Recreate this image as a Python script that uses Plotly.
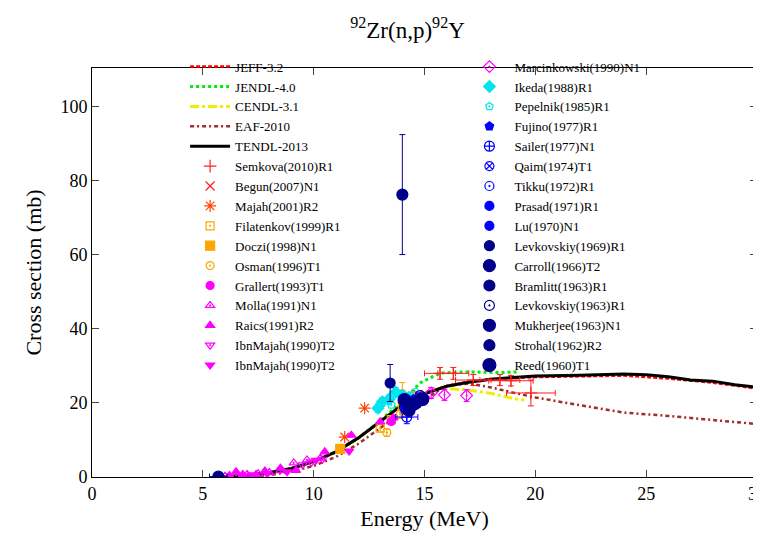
import plotly.graph_objects as go

# === evaluated libraries (energy in MeV, cross section in mb) ===
tendl_e = [5.8, 6.5, 7.0, 8.0, 9.0, 10.0, 11.0, 12.0, 13.0, 14.0, 15.0, 16.0, 17.0, 18.0, 19.0, 20.0,
           22.0, 24.0, 25.0, 26.0, 27.0, 28.0, 29.0, 30.0, 30.0]
tendl_y = [0.0, 0.2, 0.5, 1.2, 2.3, 4.2, 6.8, 10.5, 15.0, 19.5, 22.5, 24.5, 25.6, 26.4, 26.9, 27.3,
           27.5, 27.8, 27.6, 27.1, 26.2, 25.9, 24.9, 24.3, 0.0]
jeff_e = [5.8, 7.0, 8.0, 9.0, 10.0, 11.0, 12.0, 13.0, 14.0, 15.0, 16.0, 17.0, 18.0, 20.0, 22.0, 24.0,
          26.0, 28.0, 30.0]
jeff_y = [0.0, 0.5, 1.2, 2.3, 4.1, 6.7, 10.4, 14.9, 19.4, 22.6, 24.6, 25.8, 26.4, 27.0, 27.3, 27.4,
          26.6, 25.5, 23.9]
jendl_e = [5.8, 7.0, 8.0, 9.0, 10.0, 11.0, 12.0, 13.0, 14.0, 14.8, 15.7, 17.0, 18.4, 19.2]
jendl_y = [0.0, 0.5, 1.2, 2.3, 4.2, 6.8, 10.5, 15.2, 20.5, 25.4, 28.1, 28.4, 28.2, 28.4]
cendl_e = [5.8, 7.0, 8.0, 9.0, 10.0, 11.0, 12.0, 13.0, 14.0, 15.0, 15.7, 17.0, 18.0, 19.0, 19.5]
cendl_y = [0.0, 0.5, 1.2, 2.3, 4.2, 6.8, 10.5, 15.0, 19.5, 22.8, 24.0, 23.5, 22.6, 21.2, 20.8]
eaf_e = [6.5, 8.0, 9.0, 10.0, 11.0, 12.0, 13.0, 14.0, 15.0, 16.0, 17.0, 18.0, 19.0, 20.0, 22.0, 24.0,
         26.0, 28.0, 30.0]
eaf_y = [0.0, 0.5, 1.5, 3.0, 5.4, 8.9, 13.2, 17.5, 21.0, 24.6, 25.3, 24.2, 22.8, 21.5, 19.4, 17.4,
         16.5, 15.3, 14.3]

# === experimental data ===
semkova_e = [15.7, 16.3, 17.2, 18.4, 18.9, 19.8]
semkova_y = [28.0, 28.0, 26.2, 26.2, 26.0, 22.7]
semkova_dy = [1.6, 1.6, 1.5, 1.5, 1.4, 3.5]
semkova_de = [0.7, 0.7, 0.8, 0.9, 1.0, 1.1]
begun_e = [14.7]
begun_y = [22.3]
majah_e = [11.4, 12.3]
majah_y = [10.8, 18.6]
filatenkov_e = [13.0, 13.5, 14.0, 14.5]
filatenkov_y = [13.2, 15.5, 19.0, 21.8]
filatenkov_dy = [1.0, 1.0, 1.2, 1.2]
doczi_e = [11.2]
doczi_y = [7.6]
osman_e = [13.3, 13.9, 14.0, 14.5]
osman_y = [12.0, 17.0, 22.5, 20.5]
osman_dy = [1.0, 1.2, 3.0, 1.2]
grallert_e = [13.5, 14.1, 14.7]
grallert_y = [15.0, 18.5, 20.8]
molla_e = [6.0, 6.5, 7.0, 7.5, 8.0, 8.5, 9.1, 9.7, 10.3]
molla_y = [0.2, 0.4, 0.7, 0.9, 1.2, 1.7, 3.8, 4.6, 5.1]
raics_e = [6.2, 6.5, 6.8, 7.4, 7.8, 8.5, 9.2, 10.5, 11.7, 13.0, 13.6]
raics_y = [0.4, 1.4, 0.7, 0.7, 1.6, 2.4, 1.8, 6.8, 11.3, 14.9, 16.0]
ibn1_e = [9.5, 9.9, 10.4]
ibn1_y = [3.3, 4.0, 4.8]
ibn2_e = [7.2, 7.9, 8.8, 10.1, 11.6]
ibn2_y = [0.6, 0.9, 1.4, 4.5, 7.0]
marcin_e = [14.7, 15.3, 15.9, 16.9]
marcin_y = [21.3, 22.7, 22.2, 22.0]
marcin_dy = [1.5, 1.5, 1.5, 1.6]
ikeda_e = [12.9, 13.1, 13.4, 13.7, 14.0, 14.3]
ikeda_y = [18.6, 20.3, 21.0, 22.9, 22.0, 21.5]
ikeda_dy = [1.2, 1.2, 1.2, 1.3, 1.2, 1.2]
pepelnik_e = [13.5, 14.1, 14.6]
pepelnik_y = [19.5, 21.5, 23.0]
fujino_e = [14.5]
fujino_y = [21.0]
sailer_e = [14.2]
sailer_y = [16.2]
qaim_e = [14.7]
qaim_y = [20.5]
tikku_e = [14.4]
tikku_y = [19.0]
prasad_e = [14.8]
prasad_y = [21.5]
lu_e = [14.1]
lu_y = [18.5]
levk69_e = [13.45]
levk69_y = [25.4]
carroll_e = [14.6]
carroll_y = [20.0]
bramlitt_e = [14.0]
bramlitt_y = [76.3]
levk63_e = [14.8]
levk63_y = [22.0]
mukherjee_e = [14.3]
mukherjee_y = [18.0]
strohal_e = [5.7, 14.5]
strohal_y = [0.1, 19.5]
reed_e = [14.1, 14.9]
reed_y = [20.8, 21.0]

fig = go.Figure()

# === curves ===
fig.add_trace(go.Scatter(x=jeff_e, y=jeff_y, mode="lines", name="JEFF-3.2",
                         line=dict(color="#ff0000", width=2.5, dash="4px,2px"), legend="legend"))
fig.add_trace(go.Scatter(x=jendl_e, y=jendl_y, mode="lines", name="JENDL-4.0",
                         line=dict(color="#00ee00", width=3, dash="dot"), legend="legend"))
fig.add_trace(go.Scatter(x=cendl_e, y=cendl_y, mode="lines", name="CENDL-3.1",
                         line=dict(color="#eeee00", width=3, dash="dashdot"), legend="legend"))
fig.add_trace(go.Scatter(x=eaf_e, y=eaf_y, mode="lines", name="EAF-2010",
                         line=dict(color="#a52a2a", width=2.5, dash="4px,3px,2px,3px"), legend="legend"))
fig.add_trace(go.Scatter(x=tendl_e, y=tendl_y, mode="lines", name="TENDL-2013",
                         line=dict(color="#000000", width=3), legend="legend", cliponaxis=False))


def points(name, e, y, color, symbol, size=8, dy=None, de=None, leg="legend"):
    tr = go.Scatter(x=e, y=y, mode="markers", name=name, legend=leg,
                    marker=dict(color=color, symbol=symbol, size=size,
                                line=dict(color=color, width=1.2)))
    if dy is not None:
        tr.error_y = dict(type="data", array=dy, color=color, thickness=1, width=3)
    if de is not None:
        tr.error_x = dict(type="data", array=de, color=color, thickness=1, width=3)
    fig.add_trace(tr)


points("Semkova(2010)R1", semkova_e, semkova_y, "#ff2020", "cross-thin-open", 9, semkova_dy, semkova_de)
points("Begun(2007)N1", begun_e, begun_y, "#ff2020", "x-thin-open", 9)
points("Majah(2001)R2", majah_e, majah_y, "#ff4500", "asterisk-open", 10)
points("Filatenkov(1999)R1", filatenkov_e, filatenkov_y, "#ffa500", "square-open-dot", 8, filatenkov_dy)
points("Doczi(1998)N1", doczi_e, doczi_y, "#ffa500", "square", 9)
points("Osman(1996)T1", osman_e, osman_y, "#ffa500", "circle-open-dot", 8, osman_dy)
points("Grallert(1993)T1", grallert_e, grallert_y, "#ff00ff", "circle", 8)
points("Molla(1991)N1", molla_e, molla_y, "#ff00ff", "triangle-up-open-dot", 8)
points("Raics(1991)R2", raics_e, raics_y, "#ff00ff", "triangle-up", 8)
points("IbnMajah(1990)T2", ibn1_e, ibn1_y, "#ff00ff", "triangle-down-open-dot", 8)
points("IbnMajah(1990)T2", ibn2_e, ibn2_y, "#ff00ff", "triangle-down", 8)

points("Marcinkowski(1990)N1", marcin_e, marcin_y, "#ff00ff", "diamond-open-dot", 9, marcin_dy, leg="legend2")
points("Ikeda(1988)R1", ikeda_e, ikeda_y, "#00e5ee", "diamond", 9, ikeda_dy, leg="legend2")
points("Pepelnik(1985)R1", pepelnik_e, pepelnik_y, "#00e5ee", "pentagon-open-dot", 8, leg="legend2")
points("Fujino(1977)R1", fujino_e, fujino_y, "#0000ff", "pentagon", 9, leg="legend2")
points("Sailer(1977)N1", sailer_e, sailer_y, "#0000ff", "circle-cross-open", 10, [1.8], [0.5], leg="legend2")
points("Qaim(1974)T1", qaim_e, qaim_y, "#0000ff", "circle-x-open", 9, leg="legend2")
points("Tikku(1972)R1", tikku_e, tikku_y, "#0000ff", "circle-open-dot", 9, leg="legend2")
points("Prasad(1971)R1", prasad_e, prasad_y, "#0000ff", "circle-cross", 9, leg="legend2")
points("Lu(1970)N1", lu_e, lu_y, "#0000ff", "circle-x", 9, leg="legend2")
points("Levkovskiy(1969)R1", levk69_e, levk69_y, "#00008b", "circle-x", 10, [5.0], leg="legend2")
points("Carroll(1966)T2", carroll_e, carroll_y, "#00008b", "circle", 12, leg="legend2")
points("Bramlitt(1963)R1", bramlitt_e, bramlitt_y, "#00008b", "circle-cross", 11, [16.2], leg="legend2")
points("Levkovskiy(1963)R1", levk63_e, levk63_y, "#00008b", "circle-open-dot", 10, leg="legend2")
points("Mukherjee(1963)N1", mukherjee_e, mukherjee_y, "#00008b", "circle", 12, leg="legend2")
points("Strohal(1962)R2", strohal_e, strohal_y, "#00008b", "circle-x", 11, None, [0.4, 0.3], leg="legend2")
points("Reed(1960)T1", reed_e, reed_y, "#00008b", "circle", 13, leg="legend2")

serif = "Liberation Serif, Times New Roman, serif"
leg_style = dict(font=dict(family=serif, size=13, color="#000000"), bgcolor="rgba(0,0,0,0)",
                 yanchor="top", xanchor="left", itemwidth=40, tracegroupgap=0, maxheight=420)

# the page body adds ~8px, margins are trimmed to keep the plot box where the original is
fig.update_layout(
    width=761, height=539,
    margin=dict(l=84, r=12, t=60, b=70, autoexpand=False),
    paper_bgcolor="white", plot_bgcolor="white",
    font=dict(family=serif, size=18, color="#000000"),
    title=dict(text="<sup>92</sup>Zr(n,p)<sup>92</sup>Y", x=0.525, xanchor="center",
               y=0.96, yref="container", yanchor="middle", font=dict(size=23)),
    showlegend=True,
    legend=dict(x=0.14, y=1.04, **leg_style),
    legend2=dict(x=0.56, y=1.04, **leg_style),
    xaxis=dict(range=[0, 30], tick0=0, dtick=5, ticks="inside", ticklen=7, showline=True,
               linecolor="#000000", linewidth=1, mirror="ticks", showgrid=False, zeroline=False,
               automargin=False,
               title=dict(text="Energy (MeV)", font=dict(size=22), standoff=8)),
    yaxis=dict(range=[0, 110.5], tick0=0, dtick=20, ticks="inside", ticklen=7, showline=True,
               linecolor="#000000", linewidth=1, mirror="ticks", showgrid=False, zeroline=False,
               automargin=False,
               title=dict(text="Cross section (mb)", font=dict(size=22), standoff=12)),
)

fig.write_html("out.html")
